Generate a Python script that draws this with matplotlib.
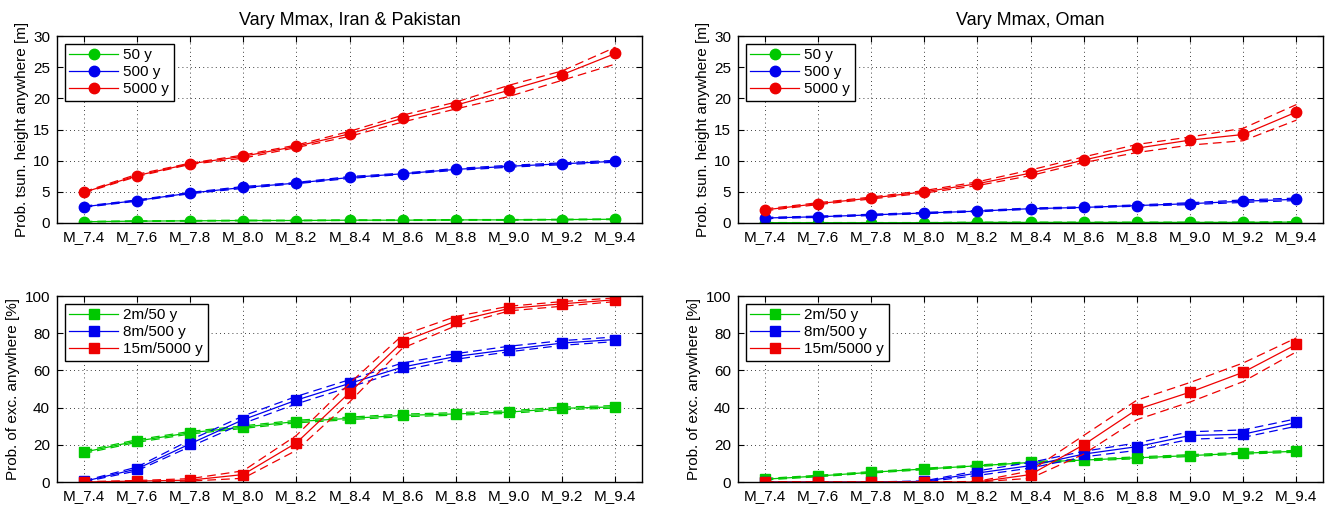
import matplotlib
matplotlib.use('Agg')
import matplotlib.pyplot as plt
import numpy as np

plt.rcParams['font.family'] = ['Liberation Sans', 'DejaVu Sans']

# category labels on the x axis
mags = ['M_7.4', 'M_7.6', 'M_7.8', 'M_8.0', 'M_8.2', 'M_8.4',
        'M_8.6', 'M_8.8', 'M_9.0', 'M_9.2', 'M_9.4']

# --- Iran & Pakistan, tsunami height [m] ---
ip_h50 = [0.2, 0.3, 0.35, 0.4, 0.4, 0.45, 0.45, 0.5, 0.5, 0.55, 0.6]
ip_h50_lo = [0.15, 0.25, 0.3, 0.35, 0.35, 0.4, 0.4, 0.45, 0.45, 0.5, 0.55]
ip_h50_hi = [0.25, 0.35, 0.4, 0.45, 0.45, 0.5, 0.5, 0.55, 0.55, 0.6, 0.65]
ip_h500 = [2.6, 3.6, 4.8, 5.7, 6.4, 7.3, 7.9, 8.6, 9.1, 9.5, 9.9]
ip_h500_lo = [2.5, 3.5, 4.7, 5.55, 6.3, 7.15, 7.8, 8.45, 8.95, 9.35, 9.75]
ip_h500_hi = [2.7, 3.7, 4.9, 5.85, 6.5, 7.45, 8.0, 8.75, 9.25, 9.65, 10.05]
ip_h5000 = [4.9, 7.6, 9.5, 10.7, 12.3, 14.3, 16.8, 18.9, 21.3, 23.8, 27.2]
ip_h5000_lo = [4.8, 7.45, 9.4, 10.4, 12.1, 13.9, 16.2, 18.3, 20.3, 22.9, 25.5]
ip_h5000_hi = [5.0, 7.8, 9.6, 10.9, 12.5, 14.7, 17.3, 19.4, 22.1, 24.4, 28.2]

# --- Oman, tsunami height [m] ---
om_h50 = [0.05, 0.05, 0.05, 0.05, 0.1, 0.1, 0.1, 0.1, 0.1, 0.1, 0.15]
om_h50_lo = [0.03, 0.03, 0.03, 0.03, 0.07, 0.07, 0.07, 0.07, 0.07, 0.07, 0.1]
om_h50_hi = [0.07, 0.07, 0.07, 0.07, 0.13, 0.13, 0.13, 0.13, 0.13, 0.13, 0.2]
om_h500 = [0.8, 1.0, 1.3, 1.6, 1.9, 2.3, 2.5, 2.8, 3.1, 3.5, 3.8]
om_h500_lo = [0.7, 0.9, 1.2, 1.5, 1.8, 2.2, 2.4, 2.7, 2.95, 3.3, 3.6]
om_h500_hi = [0.9, 1.1, 1.4, 1.7, 2.0, 2.4, 2.6, 2.9, 3.25, 3.7, 4.0]
om_h5000 = [2.1, 3.1, 4.0, 5.0, 6.3, 8.0, 10.1, 12.0, 13.3, 14.2, 17.8]
om_h5000_lo = [1.95, 2.95, 3.85, 4.8, 6.0, 7.6, 9.7, 11.3, 12.5, 13.2, 16.5]
om_h5000_hi = [2.25, 3.25, 4.15, 5.2, 6.6, 8.5, 10.6, 12.6, 13.8, 15.2, 19.0]

# --- Iran & Pakistan, probability of exceedance [%] ---
ip_p2 = [16, 22, 26.5, 29.5, 32.5, 34.2, 35.8, 36.6, 37.6, 39.6, 40.4]
ip_p2_lo = [15.3, 21.3, 25.8, 28.8, 31.8, 33.5, 35.1, 35.9, 36.9, 38.9, 39.7]
ip_p2_hi = [16.7, 22.7, 27.2, 30.2, 33.2, 34.9, 36.5, 37.3, 38.3, 40.3, 41.1]
ip_p8 = [0.3, 7, 20.5, 33.5, 44, 53, 61.8, 67.5, 71.2, 74.7, 76.6]
ip_p8_lo = [0, 6, 19, 31.5, 42, 51, 60, 66, 70, 73.5, 75.5]
ip_p8_hi = [0.6, 8, 22.5, 35.5, 46, 55, 64, 69, 73, 76, 78]
ip_p15 = [0, 0.5, 1, 4, 21, 48, 75.5, 86.5, 93.3, 95.8, 98]
ip_p15_lo = [0, 0.2, 0.5, 2, 17, 43, 72, 84, 92, 94.5, 97]
ip_p15_hi = [0.2, 0.8, 1.8, 6, 25, 53, 79, 89, 94.5, 97, 99]

# --- Oman, probability of exceedance [%] ---
om_p2 = [1.5, 3.2, 5.2, 7.0, 8.7, 10.5, 11.8, 13.0, 14.2, 15.5, 16.5]
om_p2_lo = [1.1, 2.8, 4.8, 6.6, 8.3, 10.1, 11.3, 12.5, 13.7, 15.0, 16.0]
om_p2_hi = [1.9, 3.6, 5.6, 7.4, 9.1, 10.9, 12.3, 13.5, 14.7, 16.0, 17.0]
om_p8 = [0, 0, 0, 0.3, 4.8, 8.8, 15, 19, 25, 25.7, 32]
om_p8_lo = [0, 0, 0, 0, 3.5, 7.5, 13.5, 17, 23, 24, 30]
om_p8_hi = [0, 0, 0, 0.6, 6, 10.5, 16.5, 21, 27, 28, 34]
om_p15 = [0, 0, 0, 0, 0, 4, 20, 39, 48.3, 59, 74]
om_p15_lo = [0, 0, 0, 0, 0, 2, 15, 33.5, 43, 54, 70]
om_p15_hi = [0, 0, 0, 0, 0.3, 6, 25, 44, 53.5, 64, 77.5]

GREEN = '#00c800'
BLUE = '#0000ee'
RED = '#ee0000'
FS = 11

fig = plt.figure(figsize=(13.31, 5.08), dpi=100)
W, H = 1331.0, 508.0
ax_tl = fig.add_axes([57 / W, 1 - 223 / H, 585 / W, 187 / H])
ax_tr = fig.add_axes([738 / W, 1 - 223 / H, 585 / W, 187 / H])
ax_bl = fig.add_axes([57 / W, 1 - 482 / H, 585 / W, 186 / H])
ax_br = fig.add_axes([738 / W, 1 - 482 / H, 585 / W, 186 / H])

x = np.arange(len(mags))


def draw(ax, series, marker, ms, ylim, yticks, ylabel, title=None):
    for vals, lo, hi, col, lab in series:
        ax.plot(x, lo, '--', color=col, lw=0.9, dashes=(7, 4))
        ax.plot(x, hi, '--', color=col, lw=0.9, dashes=(7, 4))
        ax.plot(x, vals, '-', color=col, lw=0.9, marker=marker, ms=ms,
                mfc=col, mec=col, label=lab)
    ax.set_xlim(-0.5, 10.5)
    ax.set_ylim(*ylim)
    ax.set_yticks(yticks)
    ax.set_xticks(x)
    ax.set_xticklabels(mags)
    ax.tick_params(direction='in', top=True, right=True, length=4,
                   labelsize=FS, width=0.8, pad=5)
    ax.grid(True, color='black', linestyle=(0, (1, 4)), linewidth=0.6)
    for sp in ax.spines.values():
        sp.set_linewidth(1.0)
    ax.set_ylabel(ylabel, fontsize=FS, labelpad=3)
    if title:
        ax.set_title(title, fontsize=13, pad=8)
    leg = ax.legend(loc='upper left', fontsize=FS, fancybox=False,
                    framealpha=1, edgecolor='black', handlelength=3.2,
                    handletextpad=0.35, labelspacing=0.2, borderpad=0.3,
                    borderaxespad=0.5)
    leg.get_frame().set_linewidth(1.0)


h_ylabel = 'Prob. tsun. height anywhere [m]'
p_ylabel = 'Prob. of exc. anywhere [%]'

draw(ax_tl, [(ip_h50, ip_h50_lo, ip_h50_hi, GREEN, '50 y'),
             (ip_h500, ip_h500_lo, ip_h500_hi, BLUE, '500 y'),
             (ip_h5000, ip_h5000_lo, ip_h5000_hi, RED, '5000 y')],
     'o', 7.5, (0, 30), range(0, 31, 5), h_ylabel, 'Vary Mmax, Iran & Pakistan')
draw(ax_tr, [(om_h50, om_h50_lo, om_h50_hi, GREEN, '50 y'),
             (om_h500, om_h500_lo, om_h500_hi, BLUE, '500 y'),
             (om_h5000, om_h5000_lo, om_h5000_hi, RED, '5000 y')],
     'o', 7.5, (0, 30), range(0, 31, 5), h_ylabel, 'Vary Mmax, Oman')
draw(ax_bl, [(ip_p2, ip_p2_lo, ip_p2_hi, GREEN, '2m/50 y'),
             (ip_p8, ip_p8_lo, ip_p8_hi, BLUE, '8m/500 y'),
             (ip_p15, ip_p15_lo, ip_p15_hi, RED, '15m/5000 y')],
     's', 6.5, (0, 100), range(0, 101, 20), p_ylabel)
draw(ax_br, [(om_p2, om_p2_lo, om_p2_hi, GREEN, '2m/50 y'),
             (om_p8, om_p8_lo, om_p8_hi, BLUE, '8m/500 y'),
             (om_p15, om_p15_lo, om_p15_hi, RED, '15m/5000 y')],
     's', 6.5, (0, 100), range(0, 101, 20), p_ylabel)

fig.savefig('out.png', dpi=100)
